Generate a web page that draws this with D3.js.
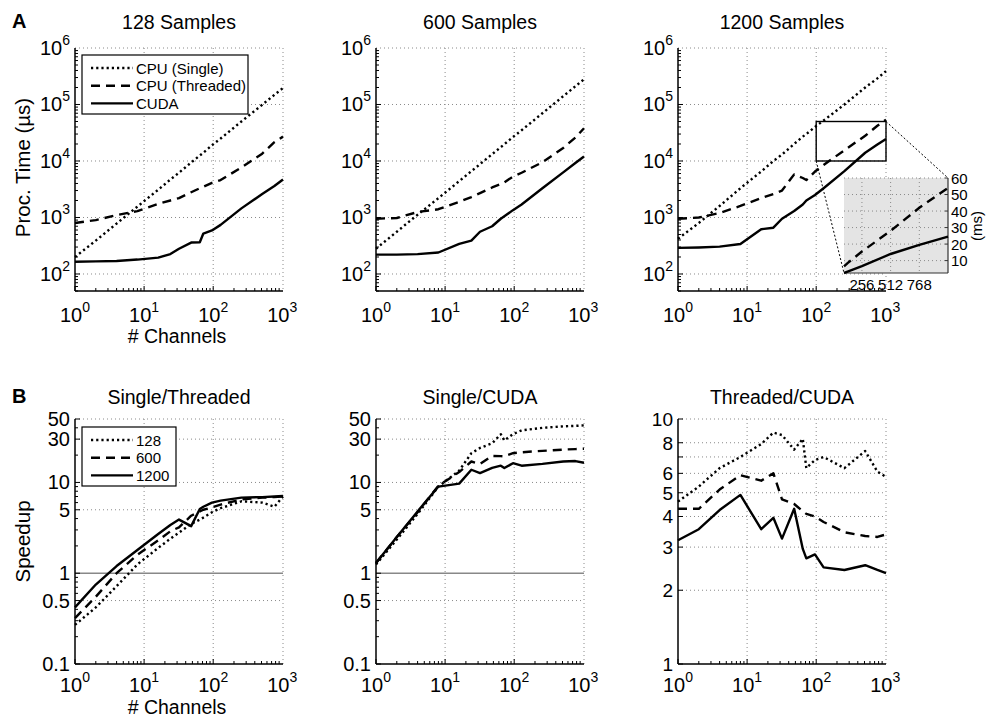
<!DOCTYPE html>
<html>
<head>
<meta charset="utf-8">
<script src="https://cdn.jsdelivr.net/npm/d3@7/dist/d3.min.js"></script>
<style>
  body { margin: 0; background: #fff; }
  svg { display: block; }
  text { font-family: "Liberation Sans", Arial, Helvetica, sans-serif; fill: #000; }
</style>
</head>
<body>
<svg id="chart" width="986" height="717"></svg>
<script>
// channel counts (x values shared by every series)
var channels = [1, 2, 4, 8, 16, 24, 32, 48, 64, 72, 96, 128, 256, 512, 768, 1024];

// A: processing time (us)
var single128   = [200, 390, 780, 1560, 3100, 4700, 6200, 9400, 12500, 14000, 19000, 25000, 50000, 99000, 148000, 196000];
var threaded128 = [800, 900, 1100, 1300, 1750, 2000, 2200, 2800, 3300, 3500, 4100, 4600, 7700, 13500, 21500, 27000];
var cuda128     = [165, 167, 170, 180, 195, 225, 280, 360, 365, 520, 590, 740, 1450, 2600, 3600, 4700];

var single600   = [280, 560, 1120, 2200, 4400, 6600, 8800, 13200, 17600, 19800, 26500, 35000, 70000, 140000, 210000, 280000];
var threaded600 = [950, 980, 1250, 1400, 1900, 2300, 2700, 3400, 3900, 4200, 5300, 6200, 9500, 17000, 26000, 38000];
var cuda600     = [220, 220, 225, 240, 340, 390, 560, 700, 950, 1050, 1350, 1700, 3300, 6300, 9200, 12000];

var single1200   = [420, 800, 1600, 3300, 6500, 10000, 13000, 20000, 27000, 30000, 40000, 52000, 100000, 200000, 290000, 390000];
var threaded1200 = [950, 1000, 1200, 1600, 2200, 2600, 3000, 5800, 5000, 4600, 6500, 8500, 15500, 28000, 42000, 54000];
var cuda1200     = [290, 295, 305, 340, 620, 660, 950, 1300, 1700, 2000, 2500, 3300, 6600, 14000, 19500, 24500];

// B: speedups
var st128  = [0.27, 0.42, 0.72, 1.25, 1.9, 2.4, 2.8, 3.5, 3.9, 4.1, 4.7, 5.2, 6.2, 6.0, 5.4, 7.0];
var st600  = [0.32, 0.55, 1.0, 1.6, 2.3, 2.9, 3.2, 4.3, 4.8, 5.0, 5.3, 5.7, 6.5, 6.8, 6.9, 7.0];
var st1200 = [0.42, 0.75, 1.2, 1.8, 2.7, 3.4, 3.9, 3.3, 5.1, 5.4, 6.0, 6.3, 6.8, 6.9, 7.0, 7.1];

var sc128  = [1.25, 2.35, 4.5, 9.0, 13.5, 21, 24, 27, 34, 29, 34, 37.5, 40, 41.5, 42, 42.5];
var sc600  = [1.3, 2.5, 4.7, 9.2, 13.0, 17.0, 16.0, 19.6, 19.5, 19.4, 21.0, 21.5, 22.3, 23.0, 23.3, 23.5];
var sc1200 = [1.3, 2.5, 4.8, 9.0, 9.7, 13.8, 12.7, 14.5, 15.3, 14.4, 16.3, 15.3, 16.0, 17.0, 17.2, 16.5];

var tc128  = [4.6, 5.3, 6.3, 7.0, 7.9, 8.8, 8.6, 7.5, 8.3, 6.3, 6.8, 7.0, 6.3, 7.4, 6.1, 5.8];
var tc600  = [4.3, 4.3, 5.15, 5.9, 5.6, 6.0, 4.7, 4.5, 4.2, 4.1, 4.0, 3.8, 3.45, 3.33, 3.3, 3.38];
var tc1200 = [3.2, 3.55, 4.25, 4.9, 3.55, 3.95, 3.25, 4.3, 2.95, 2.7, 2.8, 2.48, 2.42, 2.53, 2.42, 2.35];

// tick labels
var xDecades = [1, 10, 100, 1000];
var timeTicks = [1e2, 1e3, 1e4, 1e5, 1e6];
var speedTicks = [0.1, 0.5, 1, 5, 10, 30, 50];
var ratioTicks = [1, 2, 3, 4, 5, 6, 8, 10];
var ratioGrid = [2, 3, 4, 5, 6, 7, 8, 10];
var insetXTicks = [256, 512, 768];
var insetYTicks = [10, 20, 30, 40, 50, 60];

var timeLegend = ["CPU (Single)", "CPU (Threaded)", "CUDA"];
var sampleLegend = ["128", "600", "1200"];

var svg = d3.select("#chart");
var colLeft = [75, 376, 678];
var plotW = 208;
var gridCol = "#8a8a8a";
var styles = [
  { dash: "2.2,3" },
  { dash: "9,6" },
  { dash: null }
];

function sup(sel, base, exp) {
  sel.append("tspan").text(base);
  sel.append("tspan").attr("dy", -10).attr("font-size", 14).text(exp);
}

function drawPanel(o) {
  var g = svg.append("g");
  var x = d3.scaleLog().domain([1, 1024]).range([o.left, o.left + plotW]);
  var y = d3.scaleLog().domain(o.yDomain).range([o.bottom, o.top]);
  var r = o.left + plotW;

  // dotted grid + top/right edges
  [10, 100].forEach(function (v) {
    g.append("line").attr("x1", x(v)).attr("x2", x(v)).attr("y1", o.top).attr("y2", o.bottom)
      .attr("stroke", gridCol).attr("stroke-dasharray", "1,3");
  });
  g.append("line").attr("x1", r).attr("x2", r).attr("y1", o.top).attr("y2", o.bottom)
    .attr("stroke", gridCol).attr("stroke-dasharray", "1,3");
  o.yGrid.forEach(function (v) {
    g.append("line").attr("x1", o.left).attr("x2", r).attr("y1", y(v)).attr("y2", y(v))
      .attr("stroke", gridCol).attr("stroke-dasharray", "1,3");
  });

  if (o.unity) {
    g.append("line").attr("x1", o.left).attr("x2", r).attr("y1", y(1)).attr("y2", y(1))
      .attr("stroke", "#888").attr("stroke-width", 1.4);
  }

  var line = d3.line()
    .x(function (d) { return x(d[0]); })
    .y(function (d) { return y(d[1]); });

  o.series.forEach(function (vals, i) {
    g.append("path")
      .datum(channels.map(function (c, k) { return [c, vals[k]]; }))
      .attr("fill", "none").attr("stroke", "#000").attr("stroke-width", 2.4)
      .attr("stroke-dasharray", styles[i].dash)
      .attr("stroke-linejoin", "round")
      .attr("d", line);
  });

  // axes
  g.append("line").attr("x1", o.left).attr("x2", o.left).attr("y1", o.top).attr("y2", o.bottom)
    .attr("stroke", "#000").attr("stroke-width", 1.5);
  g.append("line").attr("x1", o.left).attr("x2", r).attr("y1", o.bottom).attr("y2", o.bottom)
    .attr("stroke", "#000").attr("stroke-width", 1.5);

  // x ticks
  [1, 10, 100].forEach(function (d) {
    for (var k = 1; k < 10; k++) {
      var v = d * k;
      if (v > 1024) break;
      var len = k === 1 ? 5 : 3;
      g.append("line").attr("x1", x(v)).attr("x2", x(v)).attr("y1", o.bottom).attr("y2", o.bottom - len)
        .attr("stroke", "#000").attr("stroke-width", 1);
    }
  });
  xDecades.forEach(function (v, i) {
    var t = g.append("text").attr("x", x(v)).attr("y", o.bottom + o.xTickGap)
      .attr("text-anchor", "middle").attr("font-size", 20);
    sup(t, "10", String(i));
  });

  // y ticks
  if (o.yMinor) {
    var lo = Math.floor(Math.log10(o.yDomain[0])), hi = Math.ceil(Math.log10(o.yDomain[1]));
    for (var e = lo; e < hi; e++) {
      for (var k = 1; k < 10; k++) {
        var v = k * Math.pow(10, e);
        if (v < o.yDomain[0] || v > o.yDomain[1]) continue;
        var len = o.yTicks.some(function (t) { return Math.abs(t - v) < 1e-9 * v; }) ? 5 : 3;
        g.append("line").attr("x1", o.left).attr("x2", o.left + len).attr("y1", y(v)).attr("y2", y(v))
          .attr("stroke", "#000").attr("stroke-width", 1);
      }
    }
  } else {
    o.yGrid.concat([1]).forEach(function (v) {
      g.append("line").attr("x1", o.left).attr("x2", o.left + 5).attr("y1", y(v)).attr("y2", y(v))
        .attr("stroke", "#000").attr("stroke-width", 1);
    });
  }
  o.yTicks.forEach(function (v) {
    var t = g.append("text").attr("x", o.left - 5).attr("y", y(v) + 7)
      .attr("text-anchor", "end").attr("font-size", o.tickSize || 20);
    if (o.power) sup(t, "10", String(Math.round(Math.log10(v))));
    else t.text(String(v));
  });

  g.append("text").attr("x", o.left + plotW / 2).attr("y", o.titleY)
    .attr("text-anchor", "middle").attr("font-size", 19.5).text(o.title);

  if (o.xLabel) {
    g.append("text").attr("x", o.left + plotW / 2 - 2).attr("y", o.bottom + o.xLabelGap)
      .attr("text-anchor", "middle").attr("font-size", 19.5).text("# Channels");
  }
  if (o.yLabel) {
    g.append("text").attr("transform", "translate(30," + ((o.top + o.bottom) / 2 - o.yLabelShift) + ") rotate(-90)")
      .attr("text-anchor", "middle").attr("font-size", 20.5).text(o.yLabel);
  }
  return { x: x, y: y, g: g };
}

function drawLegend(g, x0, y0, w, h, labels) {
  g.append("rect").attr("x", x0).attr("y", y0).attr("width", w).attr("height", h)
    .attr("fill", "#fff").attr("stroke", "#000").attr("stroke-width", 1.2);
  labels.forEach(function (lab, i) {
    var cy = y0 + 13 + i * 17.7;
    g.append("line").attr("x1", x0 + 9).attr("x2", x0 + 51).attr("y1", cy).attr("y2", cy)
      .attr("stroke", "#000").attr("stroke-width", 2.4).attr("stroke-dasharray", styles[i].dash);
    g.append("text").attr("x", x0 + 54).attr("y", cy + 5.5).attr("font-size", 15).text(lab);
  });
}

// ---- row A ----
var topSeries = [
  [single128, threaded128, cuda128],
  [single600, threaded600, cuda600],
  [single1200, threaded1200, cuda1200]
];
var topTitles = ["128 Samples", "600 Samples", "1200 Samples"];
var topPanels = topSeries.map(function (s, i) {
  return drawPanel({
    left: colLeft[i], top: 48, bottom: 291, yDomain: [50, 1e6],
    yTicks: timeTicks, yGrid: timeTicks, yMinor: true, power: true,
    series: s, title: topTitles[i], titleY: 29,
    xTickGap: 31, xLabel: i === 0, xLabelGap: 52,
    yLabel: i === 0 ? "Proc. Time (\u00b5s)" : null, yLabelShift: 2
  });
});
drawLegend(topPanels[0].g, 82, 55, 166, 59, timeLegend);

// ---- row B ----
var botSeries = [
  [st128, st600, st1200],
  [sc128, sc600, sc1200],
  [tc128, tc600, tc1200]
];
var botTitles = ["Single/Threaded", "Single/CUDA", "Threaded/CUDA"];
var botPanels = botSeries.map(function (s, i) {
  var ratio = i === 2;
  return drawPanel({
    left: colLeft[i], top: 419, bottom: 664,
    yDomain: ratio ? [1, 10] : [0.1, 50],
    yTicks: ratio ? ratioTicks : speedTicks,
    yGrid: ratio ? ratioGrid : [0.5, 5, 10, 30, 50],
    yMinor: !ratio, power: false, unity: !ratio, tickSize: ratio ? 19 : 20,
    series: s, title: botTitles[i], titleY: 404,
    xTickGap: 28, xLabel: i === 0, xLabelGap: 50,
    yLabel: i === 0 ? "Speedup" : null, yLabelShift: 0
  });
});
drawLegend(botPanels[0].g, 82, 427, 94, 59, sampleLegend);

// ---- zoom inset on 1200 samples ----
var p = topPanels[2];
var ig = p.g.append("g");
var ix = d3.scaleLinear().domain([96, 1024]).range([844, 948]);
var iy = d3.scaleLinear().domain([2.5, 60]).range([273, 178]);

// rectangle marking the zoomed region
ig.append("rect").attr("x", p.x(100)).attr("y", p.y(5e4))
  .attr("width", p.x(1024) - p.x(100)).attr("height", p.y(1e4) - p.y(5e4))
  .attr("fill", "none").attr("stroke", "#000").attr("stroke-width", 1.4);
ig.append("line").attr("x1", p.x(1024)).attr("y1", p.y(5e4)).attr("x2", ix(1024)).attr("y2", iy(60))
  .attr("stroke", "#000").attr("stroke-dasharray", "2,2");
ig.append("line").attr("x1", p.x(100)).attr("y1", p.y(1e4)).attr("x2", ix(96)).attr("y2", iy(2.5))
  .attr("stroke", "#000").attr("stroke-dasharray", "2,2");

ig.append("rect").attr("x", ix(96)).attr("y", iy(60))
  .attr("width", ix(1024) - ix(96)).attr("height", iy(2.5) - iy(60))
  .attr("fill", "#e4e4e4");
insetXTicks.forEach(function (v) {
  ig.append("line").attr("x1", ix(v)).attr("x2", ix(v)).attr("y1", iy(60)).attr("y2", iy(2.5))
    .attr("stroke", gridCol).attr("stroke-dasharray", "1,3");
  ig.append("text").attr("x", ix(v)).attr("y", iy(2.5) + 17).attr("text-anchor", "middle")
    .attr("font-size", 15).text(v);
});
insetYTicks.forEach(function (v) {
  ig.append("line").attr("x1", ix(96)).attr("x2", ix(1024)).attr("y1", iy(v)).attr("y2", iy(v))
    .attr("stroke", gridCol).attr("stroke-dasharray", "1,3");
  ig.append("line").attr("x1", ix(1024) - 3).attr("x2", ix(1024)).attr("y1", iy(v)).attr("y2", iy(v))
    .attr("stroke", "#333");
  ig.append("text").attr("x", ix(1024) + 3).attr("y", iy(v) + 5.5).attr("font-size", 15).text(v);
});
ig.append("line").attr("x1", ix(1024)).attr("x2", ix(1024)).attr("y1", iy(60)).attr("y2", iy(2.5))
  .attr("stroke", "#333").attr("stroke-width", 1.2);
ig.append("line").attr("x1", ix(96)).attr("x2", ix(1024)).attr("y1", iy(2.5)).attr("y2", iy(2.5))
  .attr("stroke", "#333").attr("stroke-width", 1.2);
ig.append("text").attr("transform", "translate(982," + iy(31) + ") rotate(-90)")
  .attr("text-anchor", "middle").attr("font-size", 15).text("(ms)");

var iline = d3.line()
  .x(function (d) { return ix(d[0]); })
  .y(function (d) { return iy(d[1] / 1000); });
[threaded1200, cuda1200].forEach(function (vals, i) {
  var pts = channels.map(function (c, k) { return [c, vals[k]]; })
    .filter(function (d) { return d[0] >= 96; });
  ig.append("path").datum(pts)
    .attr("fill", "none").attr("stroke", "#000").attr("stroke-width", 2.4)
    .attr("stroke-dasharray", styles[i + 1].dash)
    .attr("d", iline);
});

// panel letters
svg.append("text").attr("x", 12).attr("y", 28).attr("font-size", 20).attr("font-weight", "bold").text("A");
svg.append("text").attr("x", 12).attr("y", 403).attr("font-size", 20).attr("font-weight", "bold").text("B");
</script>
</body>
</html>
